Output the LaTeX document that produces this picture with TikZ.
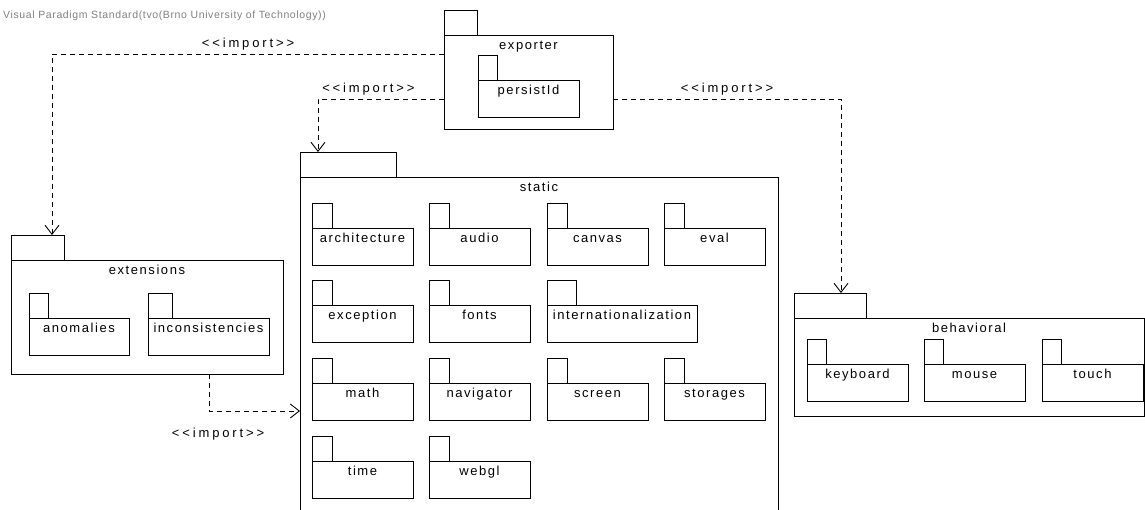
\documentclass[tikz,border=0pt]{standalone}
\usepackage{fontspec}
\usetikzlibrary{arrows.meta}
\newfontfamily\vpfont{Liberation Sans}[LetterSpace=12]
\newfontfamily\vpimport{Liberation Sans}[LetterSpace=22]
\newfontfamily\vphead{Liberation Sans}[LetterSpace=6]
\definecolor{vpgray}{RGB}{128,128,128}
\begin{document}
\begin{tikzpicture}[x=1pt, y=-1pt, line join=miter,
	pkg/.style={draw, line width=0.9pt, inner sep=0, outer sep=0, anchor=north west, minimum height=37pt,
		label={[anchor=north, inner xsep=2pt, inner ysep=4pt, text height=10pt, text depth=3pt,
			font=\vpfont\fontsize{13}{15}\selectfont]north:#1}},
	tab/.style={draw, line width=0.9pt, inner sep=0, outer sep=0, anchor=south west, minimum height=25pt},
	dep/.style={line width=0.9pt, dash pattern=on 5pt off 4pt, -{Straight Barb[length=9pt, width=14pt]}},
	imp/.style={font=\vpimport\fontsize{13}{15}\selectfont, inner sep=3pt}]
	\useasboundingbox (0,0) rectangle (1145,510);
	\node[anchor=west, text=vpgray, font=\vphead\fontsize{10.5}{12}\selectfont, inner sep=0] (header) at (3,16)
		{Visual Paradigm Standard(tvo(Brno University of Technology))};
	% exporter
	\node[pkg=exporter, minimum width=169pt, minimum height=94pt] (exporter) at (444,35) {};
	\node[tab, minimum width=33pt] (exporter-tab) at (exporter.north west) {};
	\node[pkg=persistId, minimum width=101pt] (persistId) at (478,80) {};
	\node[tab, minimum width=19pt] (persistId-tab) at (persistId.north west) {};
	% extensions
	\node[pkg=extensions, minimum width=272pt, minimum height=114pt] (extensions) at (11,260) {};
	\node[tab, minimum width=53pt] (extensions-tab) at (extensions.north west) {};
	\node[pkg=anomalies, minimum width=100pt] (anomalies) at (29,318) {};
	\node[tab, minimum width=19pt] (anomalies-tab) at (anomalies.north west) {};
	\node[pkg=inconsistencies, minimum width=121pt] (inconsistencies) at (148,318) {};
	\node[tab, minimum width=24pt] (inconsistencies-tab) at (inconsistencies.north west) {};
	% static
	\node[pkg=static, minimum width=478pt, minimum height=345pt] (static) at (300,177) {};
	\node[tab, minimum width=96pt] (static-tab) at (static.north west) {};
	\foreach \nm/\x/\y in {architecture/312/228, audio/429/228, canvas/547/228, eval/664/228,
		exception/312/305, fonts/429/305,
		math/312/383, navigator/429/383, screen/547/383, storages/664/383,
		time/312/461, webgl/429/461}
	{
		\node[pkg=\nm, minimum width=101pt] (\nm) at (\x,\y) {};
		\node[tab, minimum width=20pt] (\nm-tab) at (\nm.north west) {};
	}
	\node[pkg=internationalization, minimum width=150pt] (internationalization) at (547,305) {};
	\node[tab, minimum width=29pt] (internationalization-tab) at (internationalization.north west) {};
	% behavioral
	\node[pkg=behavioral, minimum width=350pt, minimum height=98pt] (behavioral) at (794,318) {};
	\node[tab, minimum width=72pt] (behavioral-tab) at (behavioral.north west) {};
	\foreach \nm/\x in {keyboard/807, mouse/924, touch/1042}
	{
		\node[pkg=\nm, minimum width=101pt] (\nm) at (\x,364) {};
		\node[tab, minimum width=19pt] (\nm-tab) at (\nm.north west) {};
	}
	% imports
	\draw[dep] ([yshift=28pt]exporter.west) -| node[imp, pos=0.25, above] {<<import>>}
		([xshift=41pt]extensions-tab.north west);
	\draw[dep] ([yshift=-17pt]exporter.west) -| node[imp, pos=0.3, above] {<<import>>}
		([xshift=18pt]static-tab.north west);
	\draw[dep] ([yshift=-17pt]exporter.east) -| node[imp, pos=0.25, above] {<<import>>}
		([xshift=47pt]behavioral-tab.north west);
	\draw[dep] ([xshift=198pt]extensions.south west) |- node[imp, pos=0.55, below=14pt] {<<import>>}
		([yshift=-234pt]static.north west);
\end{tikzpicture}
\end{document}
